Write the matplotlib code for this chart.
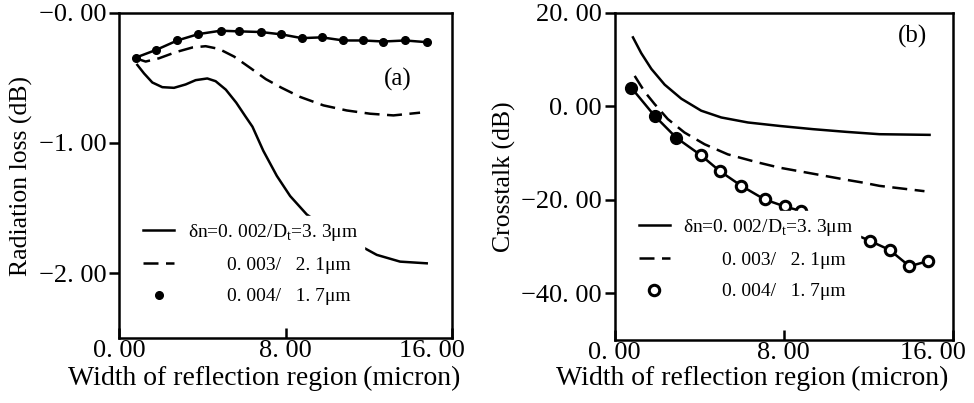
import numpy as np
import matplotlib
matplotlib.use("Agg")
import matplotlib.pyplot as plt
from matplotlib.lines import Line2D
from matplotlib.transforms import ScaledTranslation

plt.rcParams['font.family'] = ['Liberation Serif', 'DejaVu Serif']
plt.rcParams['mathtext.fontset'] = 'custom'
plt.rcParams['mathtext.rm'] = 'Liberation Serif'

# (a) radiation loss
a_solid_x = [0.88, 1.20, 1.60, 2.08, 2.64, 3.20, 3.68, 4.24, 4.64, 5.13, 5.63, 6.09, 6.41, 6.93, 7.58, 8.22, 9.02,
             10.0, 10.8, 11.50, 12.38, 13.50, 14.78]
a_solid_y = [-0.40, -0.465, -0.535, -0.571, -0.576, -0.55, -0.517, -0.504, -0.525, -0.59, -0.69, -0.80, -0.875,
             -1.06, -1.253, -1.408, -1.55, -1.66, -1.73, -1.783, -1.86, -1.912, -1.925]
a_dash_x = [0.80, 1.28, 1.92, 2.72, 3.52, 4.16, 4.80, 5.53, 6.33, 7.05, 7.80, 8.70, 9.82, 10.94, 12.06, 13.18, 14.46]
a_dash_y = [-0.349, -0.374, -0.349, -0.302, -0.266, -0.256, -0.277, -0.336, -0.426, -0.509, -0.575, -0.646, -0.711,
            -0.75, -0.775, -0.788, -0.767]
a_dot_x = [0.80, 1.79, 2.80, 3.81, 4.88, 5.77, 6.81, 7.80, 8.78, 9.74, 10.78, 11.74, 12.70, 13.74, 14.78]
a_dot_y = [-0.344, -0.284, -0.212, -0.163, -0.137, -0.142, -0.147, -0.165, -0.194, -0.188, -0.212, -0.212, -0.22,
           -0.212, -0.225]

# (b) crosstalk
b_solid_x = [0.87, 1.26, 1.74, 2.37, 3.16, 4.10, 5.05, 6.31, 7.85, 9.39, 10.97, 12.54, 14.91]
b_solid_y = [14.76, 11.4, 8.02, 4.65, 1.64, -0.92, -2.37, -3.44, -4.2, -4.87, -5.45, -5.95, -6.09]
b_dash_x = [0.95, 1.42, 1.89, 2.52, 3.31, 4.26, 5.36, 6.70, 7.80, 9.39, 10.97, 11.75, 12.54, 14.67]
b_dash_y = [6.52, 3.15, 0.52, -2.72, -5.59, -8.1, -10.26, -11.9, -13.1, -14.4, -15.7, -16.3, -17.0, -18.14]
b_circ_x = [0.79, 1.89, 2.92, 4.10, 4.97, 6.00, 7.10, 8.05, 8.84, 10.0, 11.0, 12.10, 13.02, 13.96, 14.83]
b_circ_y = [4.0, -2.0, -6.7, -10.5, -13.8, -17.0, -19.9, -21.4, -22.4, -24.6, -26.6, -28.8, -30.7, -34.2, -33.1]
n_filled = 3  # first circles print as solid blobs in the scan

x_ticks = [0, 8, 16]
x_tick_labels = ["0. 00", "8. 00", "16. 00"]
a_y_ticks = [0, -1, -2]
a_y_tick_labels = ["\u22120. 00", "\u22121. 00", "\u22122. 00"]
b_y_ticks = [20, 0, -20, -40]
b_y_tick_labels = ["20. 00", "0. 00", "\u221220. 00", "\u221240. 00"]

legend_labels = ["\u03b4n=0. 002/D$_\\mathrm{t}$=3. 3\u03bcm",
                 "        0. 003/   2. 1\u03bcm",
                 "        0. 004/   1. 7\u03bcm"]

fig = plt.figure(figsize=(9.74, 4.03), dpi=100)
ax_a = fig.add_axes([0.1222, 0.161, 0.342, 0.807])
ax_b = fig.add_axes([0.631, 0.156, 0.347, 0.812])

lw = 1.8
leg_kw = dict(loc='upper left', fontsize=14, frameon=True, facecolor='white', edgecolor='white',
              framealpha=1, fancybox=False, handlelength=1.6, handletextpad=0.7,
              labelspacing=0.7, borderpad=0.3, borderaxespad=0)

for ax in (ax_a, ax_b):
    for s in ax.spines.values():
        s.set_linewidth(1.8)
    ax.set_xlim(0, 16)
    ax.set_xticks(x_ticks)
    ax.set_xticklabels(x_tick_labels, fontsize=19)
    ax.tick_params(axis='x', direction='in', length=7, width=1.8, pad=1)
    ax.tick_params(axis='y', direction='out', length=7, width=1.8, pad=2, labelsize=19)
    ax.set_xlabel("Width of reflection region\u2009(micron)", fontsize=20, va='top')
    # last x label sits a bit to the left in the original
    lab = ax.get_xticklabels()[-1]
    lab.set_transform(lab.get_transform() + ScaledTranslation(-0.2, 0, fig.dpi_scale_trans))

ax_a.xaxis.set_label_coords(0.435, -0.085)
ax_b.xaxis.set_label_coords(0.408, -0.078)

# panel (a)
ax_a.plot(a_solid_x, a_solid_y, color='black', lw=lw)
ax_a.plot(a_dash_x, a_dash_y, color='black', lw=lw, dashes=(6, 3))
ax_a.plot(a_dot_x, a_dot_y, color='black', lw=lw)
ax_a.plot(a_dot_x, a_dot_y, 'o', color='black', ms=5.5)
ax_a.set_ylim(-2.5, 0.0)
ax_a.set_yticks(a_y_ticks)
ax_a.set_yticklabels(a_y_tick_labels)
ax_a.set_ylabel("Radiation loss (dB)", fontsize=18.5, labelpad=4)
ax_a.text(0.838, 0.794, "(a)", transform=ax_a.transAxes, fontsize=18, ha='center', va='center')

h_a = [Line2D([], [], color='black', lw=lw),
       Line2D([], [], color='black', lw=lw, dashes=(6, 3)),
       Line2D([], [], color='black', ls='none', marker='o', ms=5.5)]
ax_a.legend(h_a, legend_labels, bbox_to_anchor=(0.055, 0.375), **leg_kw)

# panel (b)
ax_b.plot(b_solid_x, b_solid_y, color='black', lw=lw)
ax_b.plot(b_dash_x, b_dash_y, color='black', lw=lw, dashes=(6, 3))
ax_b.plot(b_circ_x, b_circ_y, color='black', lw=lw)
ax_b.plot(b_circ_x[n_filled:], b_circ_y[n_filled:], 'o', color='black', mfc='white', mew=2.2, ms=7.5)
ax_b.plot(b_circ_x[:n_filled], b_circ_y[:n_filled], 'o', color='black', ms=8.5)
ax_b.set_ylim(-50, 20)
ax_b.set_yticks(b_y_ticks)
ax_b.set_yticklabels(b_y_tick_labels)
ax_b.set_ylabel("Crosstalk (dB)", fontsize=18.5, labelpad=4)
ax_b.text(0.882, 0.927, "(b)", transform=ax_b.transAxes, fontsize=18, ha='center', va='center')

h_b = [Line2D([], [], color='black', lw=lw),
       Line2D([], [], color='black', lw=lw, dashes=(6, 3)),
       Line2D([], [], color='black', ls='none', marker='o', mfc='white', mew=2.2, ms=7.5)]
ax_b.legend(h_b, legend_labels, bbox_to_anchor=(0.054, 0.394), **leg_kw)

fig.savefig("out.png", dpi=100)
